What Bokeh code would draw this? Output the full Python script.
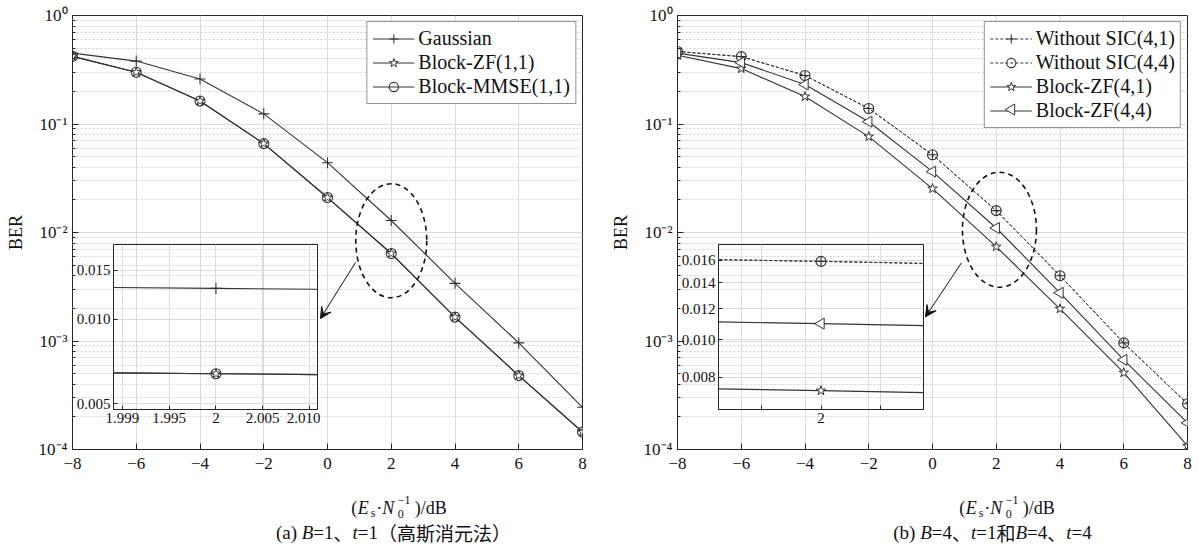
import numpy as np
from bokeh.plotting import figure
from bokeh.models import (GridBox, Range1d, FixedTicker, Legend, LegendItem,
                          Label, Arrow, VeeHead)
from bokeh.embed import file_html
from bokeh.resources import INLINE

# ---------------- data ----------------
snr_db = [-8, -6, -4, -2, 0, 2, 4, 6, 8]

# panel (a): B=1, t=1
ber_gaussian      = [0.45, 0.38, 0.26, 0.124, 0.044, 0.0129, 0.0034, 0.00096, 0.000245]
ber_block_zf_11   = [0.42, 0.30, 0.163, 0.066, 0.021, 0.0064, 0.00166, 0.00048, 0.000145]
ber_block_mmse_11 = [0.42, 0.30, 0.163, 0.066, 0.021, 0.0064, 0.00166, 0.00048, 0.000145]

# panel (b): B=4, t=1 and B=4, t=4
ber_without_sic_41 = [0.466, 0.418, 0.28, 0.139, 0.052, 0.0159, 0.0040, 0.00096, 0.000264]
ber_without_sic_44 = [0.466, 0.418, 0.28, 0.139, 0.052, 0.0159, 0.0040, 0.00096, 0.000264]
ber_block_zf_41    = [0.43, 0.324, 0.179, 0.0765, 0.0254, 0.0074, 0.00198, 0.00051, 0.000108]
ber_block_zf_44    = [0.45, 0.368, 0.231, 0.105, 0.0364, 0.0110, 0.00278, 0.00067, 0.000176]

# ticks / labels
x_ticks = [-8, -6, -4, -2, 0, 2, 4, 6, 8]
x_tick_labels = ["\u22128", "\u22126", "\u22124", "\u22122", "0", "2", "4", "6", "8"]
y_ticks = [1e-4, 1e-3, 1e-2, 1e-1, 1.0]
y_tick_labels = ["10\u207b\u2074", "10\u207b\u00b3", "10\u207b\u00b2", "10\u207b\u00b9", "10\u2070"]
y_minor_ticks = [m * 10.0 ** e for e in range(-4, 0) for m in range(2, 10)]

inset_a_x_ticks = [1.990, 1.995, 2.0, 2.005, 2.010]
inset_a_x_labels = ["1.999", "1.995", "2", "2.005", "2.010"]
inset_a_y_ticks = [0.005, 0.010, 0.015]
inset_a_y_labels = ["0.005", "0.010", "0.015"]

inset_b_x_ticks = [1.99, 2.0, 2.01]
inset_b_x_labels = ["", "2", ""]
inset_b_y_ticks = [0.008, 0.010, 0.012, 0.014, 0.016]
inset_b_y_labels = ["0.008", "0.010", "0.012", "0.014", "0.016"]

legend_a = ["Gaussian", "Block-ZF(1,1)", "Block-MMSE(1,1)"]
legend_b = ["Without SIC(4,1)", "Without SIC(4,4)", "Block-ZF(4,1)", "Block-ZF(4,4)"]

caption_a = [("(a) ", "r"), ("B", "i"), ("=1", "r"), ("\u3001", "c"), ("t", "i"),
             ("=1", "r"), ("\uff08\u9ad8\u65af\u6d88\u5143\u6cd5\uff09", "c")]
caption_b = [("(b) ", "r"), ("B", "i"), ("=4", "r"), ("\u3001", "c"), ("t", "i"),
             ("=1", "r"), ("\u548c", "c"), ("B", "i"), ("=4", "r"), ("\u3001", "c"),
             ("t", "i"), ("=4", "r")]
# x-axis label pieces: text, style, size, x offset, baseline shift
xlabel_runs = [("(", "r", 18, 0.0, 0), ("E", "i", 18, 6.5, 0), ("s", "r", 12, 19.5, -5),
               ("\u00b7", "r", 18, 25.0, 0), ("N", "i", 18, 31.0, 0), ("0", "r", 12, 46.5, -6),
               ("\u22121", "r", 12, 46.5, 8), (")", "r", 18, 63.5, 0), ("/dB", "r", 18, 69.5, 0)]
XLABEL_W = 96.5

# ---------------- style / geometry ----------------
FONT = "Liberation Serif"
CJK_FONT = "Noto Sans CJK SC"
INK = "#262626"
LINE = "#333333"
GRID = "#dadada"
MINOR = "#d2d2d2"

LEG_MARGIN, LEG_PAD, LEG_GW, LEG_STANDOFF, LEG_ROW, LEG_SPACING = 6, 5, 42, 4, 23, 1
LEG_FONT = 20

ROMAN_W = {" ": 250, "(": 333, ")": 333, "a": 444, "b": 500, "=": 564, "1": 500, "4": 500}
ITALIC_W = {"B": 611, "t": 278}


def run_width(text, kind, size):
    if kind == "c":
        return len(text) * size
    table = ITALIC_W if kind == "i" else ROMAN_W
    return sum(table.get(ch, 500) for ch in text) * size / 1000.0


def add_caption(p, runs, cx, baseline, size=19):
    total = sum(run_width(t, k, size) for t, k in runs)
    x = cx - total / 2.0
    for t, k in runs:
        p.add_layout(Label(x=x, y=baseline, x_units="screen", y_units="screen", text=t,
                           text_font=CJK_FONT if k == "c" else FONT,
                           text_font_style="italic" if k == "i" else "normal",
                           text_font_size=f"{size}px", text_color="#111111",
                           text_baseline="alphabetic", text_align="left"))
        x += run_width(t, k, size)


def add_xlabel(p, cx, baseline):
    x0 = cx - XLABEL_W / 2.0
    for t, k, size, dx, dy in xlabel_runs:
        p.add_layout(Label(x=x0 + dx, y=baseline + dy, x_units="screen", y_units="screen",
                           text=t, text_font=FONT,
                           text_font_style="italic" if k == "i" else "normal",
                           text_font_size=f"{size}px", text_color="#111111",
                           text_baseline="alphabetic", text_align="left"))


def bare_fig(width, height):
    t = figure(width=width, height=height, x_range=Range1d(0, 1), y_range=Range1d(0, 1),
               output_backend="svg", toolbar_location=None, min_border=0,
               x_axis_location=None, y_axis_location=None)
    t.title.visible = False
    t.grid.visible = False
    t.outline_line_color = None
    t.background_fill_color = None
    t.border_fill_color = None
    return t


def main_fig(width, bl, br):
    p = figure(width=width, height=480, x_range=Range1d(-8, 8), y_range=Range1d(1e-4, 1.0),
               y_axis_type="log", output_backend="svg", toolbar_location=None,
               min_border_left=bl, min_border_right=br, min_border_top=15, min_border_bottom=31)
    p.title.visible = False
    p.outline_line_color = INK
    p.outline_line_width = 1
    p.background_fill_color = "white"
    p.border_fill_color = "white"

    xa = p.xaxis[0]
    xa.ticker = FixedTicker(ticks=x_ticks)
    xa.major_label_overrides = {t: l for t, l in zip(x_ticks, x_tick_labels)}
    ya = p.yaxis[0]
    ya.ticker = FixedTicker(ticks=y_ticks, minor_ticks=y_minor_ticks)
    ya.major_label_overrides = {t: l for t, l in zip(y_ticks, y_tick_labels)}
    ya.axis_label = "BER"
    ya.axis_label_text_font = FONT
    ya.axis_label_text_font_style = "normal"
    ya.axis_label_text_font_size = "18px"
    ya.axis_label_text_color = "#111111"
    ya.axis_label_standoff = 10
    for ax in (xa, ya):
        ax.axis_line_color = INK
        ax.major_tick_line_color = INK
        ax.minor_tick_line_color = INK
        ax.major_tick_in = 6
        ax.major_tick_out = 0
        ax.minor_tick_in = 3
        ax.minor_tick_out = 0
        ax.major_label_text_font = FONT
        ax.major_label_text_font_size = "17px"
        ax.major_label_text_color = "#111111"
    xa.major_label_standoff = 8
    ya.major_label_standoff = 5
    xa.minor_tick_line_color = None
    p.xgrid.ticker = FixedTicker(ticks=x_ticks)
    p.ygrid.ticker = FixedTicker(ticks=y_ticks, minor_ticks=y_minor_ticks)
    p.xgrid.grid_line_color = GRID
    p.ygrid.grid_line_color = GRID
    p.ygrid.minor_grid_line_color = MINOR
    p.ygrid.minor_grid_line_dash = "2 2"
    return p


def inset_fig(xr, yr, xt, xl, yt, yl, bl, bt):
    q = figure(width=250, height=200, x_range=Range1d(*xr), y_range=Range1d(*yr),
               y_axis_type="log", output_backend="svg", toolbar_location=None,
               min_border_left=bl, min_border_right=3, min_border_top=bt, min_border_bottom=31)
    q.title.visible = False
    q.background_fill_color = None
    q.border_fill_color = None
    q.outline_line_color = INK
    xa = q.xaxis[0]
    ya = q.yaxis[0]
    xa.ticker = FixedTicker(ticks=xt)
    xa.major_label_overrides = {t: l for t, l in zip(xt, xl)}
    ya.ticker = FixedTicker(ticks=yt, minor_ticks=[])
    ya.major_label_overrides = {t: l for t, l in zip(yt, yl)}
    for ax in (xa, ya):
        ax.axis_line_color = INK
        ax.major_tick_line_color = INK
        ax.minor_tick_line_color = None
        ax.major_tick_in = 4
        ax.major_tick_out = 0
        ax.major_label_text_font = FONT
        ax.major_label_text_font_size = "15px"
        ax.major_label_text_color = "#111111"
        ax.major_label_standoff = 3
    q.xgrid.ticker = FixedTicker(ticks=xt)
    q.ygrid.ticker = FixedTicker(ticks=yt, minor_ticks=[])
    q.xgrid.grid_line_color = GRID
    q.ygrid.grid_line_color = GRID
    return q


def draw_a(p):
    l1 = p.line(snr_db, ber_gaussian, line_color=LINE, line_width=1.1)
    l2 = p.line(snr_db, ber_block_zf_11, line_color=LINE, line_width=1.1)
    l3 = p.line(snr_db, ber_block_mmse_11, line_color=LINE, line_width=1.1)
    s1 = p.scatter(snr_db, ber_gaussian, marker="cross", size=11, line_color=LINE, line_width=1.1)
    s2 = p.scatter(snr_db, ber_block_zf_11, marker="star", size=10, line_color=LINE,
                   fill_color="white", line_width=1)
    s3 = p.scatter(snr_db, ber_block_mmse_11, marker="circle", size=10, line_color=LINE,
                   fill_color=None, line_width=1.1)
    return [(legend_a[0], [l1, s1]), (legend_a[1], [l2, s2]), (legend_a[2], [l3, s3])]


TRI = dict(marker="triangle", size=11, angle=np.pi / 2, line_color=LINE,
           fill_color="white", line_width=1)


def draw_b(p):
    l1 = p.line(snr_db, ber_without_sic_41, line_color=LINE, line_width=1, line_dash="3 2")
    l2 = p.line(snr_db, ber_without_sic_44, line_color=LINE, line_width=1, line_dash="3 2")
    l3 = p.line(snr_db, ber_block_zf_41, line_color=LINE, line_width=1.1)
    l4 = p.line(snr_db, ber_block_zf_44, line_color=LINE, line_width=1.1)
    s1 = p.scatter(snr_db, ber_without_sic_41, marker="cross", size=10, line_color=LINE, line_width=1.1)
    s2 = p.scatter(snr_db, ber_without_sic_44, marker="circle", size=10, line_color=LINE,
                   fill_color=None, line_width=1.1)
    s3 = p.scatter(snr_db, ber_block_zf_41, marker="star", size=10, line_color=LINE,
                   fill_color="white", line_width=1)
    p.scatter(snr_db, ber_block_zf_44, **TRI)
    # a legend cannot rotate markers: the left-pointing sample is overlaid separately
    return [(legend_b[0], [l1, s1]), (legend_b[1], [l2, s2]),
            (legend_b[2], [l3, s3]), (legend_b[3], [l4])]


def add_legend(p, items):
    leg = Legend(items=[LegendItem(label=n, renderers=r) for n, r in items],
                 location="top_right", margin=LEG_MARGIN, padding=LEG_PAD, spacing=LEG_SPACING,
                 glyph_width=LEG_GW, glyph_height=LEG_ROW, label_height=LEG_ROW,
                 label_standoff=LEG_STANDOFF,
                 label_text_font=FONT, label_text_font_size=f"{LEG_FONT}px",
                 label_text_color="#111111",
                 border_line_color=INK, border_line_width=1, background_fill_color="white",
                 background_fill_alpha=1.0)
    p.add_layout(leg)


def decorate(p, ell, arrow):
    (ex, ey, ew, eh) = ell
    p.ellipse(x=[ex], y=[ey], width=ew, height=eh, width_units="screen", height_units="screen",
              fill_color=None, line_color="#111111", line_width=1.6, line_dash="5 4")
    (x0, y0, x1, y1) = arrow
    p.add_layout(Arrow(end=VeeHead(size=11, fill_color="#111111", line_color="#111111"),
                       x_start=x0, y_start=y0, x_end=x1, y_end=y1,
                       line_color="#111111", line_width=1))


# ---------------- panel (a) ----------------
pa = main_fig(600, 72, 18)
add_legend(pa, draw_a(pa))
decorate(pa, (2.0, 0.0084, 71, 114), (0.88, 0.0053, -0.22, 0.00161))

ia = inset_fig((1.98904, 2.01086), (0.00477, 0.0185), inset_a_x_ticks, inset_a_x_labels,
               inset_a_y_ticks, inset_a_y_labels, 43, 4)
draw_a(ia)

ta = bare_fig(600, 66)
add_xlabel(ta, 327, 39)
add_caption(ta, caption_a, 321, 14)

# ---------------- panel (b) ----------------
pb = main_fig(597, 77, 10)
add_legend(pb, draw_b(pb))
decorate(pb, (2.1, 0.0106, 74, 115), (0.91, 0.00526, -0.22, 0.00167))

ib = inset_fig((1.9828, 2.0172), (0.00662, 0.01757), inset_b_x_ticks, inset_b_x_labels,
               inset_b_y_ticks, inset_b_y_labels, 42, 3)
draw_b(ib)

tb = bare_fig(597, 66)
add_xlabel(tb, 330, 39)
add_caption(tb, caption_b, 315, 14)

# legend sample marker for Block-ZF(4,4), overlaid on the legend's 4th glyph slot
tri = bare_fig(18, 18)
tri.scatter([0.5], [0.5], **TRI)

# grid tracks (px): columns 0|70|320|600|676|926|1002|1020|1197, rows 0|100|118|240|440|480|546
grid = GridBox(children=[(pa, 0, 0, 5, 3), (pb, 0, 3, 5, 5),
                         (ia, 3, 1, 1, 1), (ib, 3, 4, 1, 1),
                         (ta, 5, 0, 1, 3), (tb, 5, 3, 1, 5),
                         (tri, 1, 6, 1, 1)],
               rows=["100px", "18px", "122px", "200px", "40px", "66px"],
               cols=["70px", "250px", "280px", "76px", "250px", "76px", "18px", "177px"],
               spacing=0)

open("out.html", "w").write(file_html(grid, INLINE))
